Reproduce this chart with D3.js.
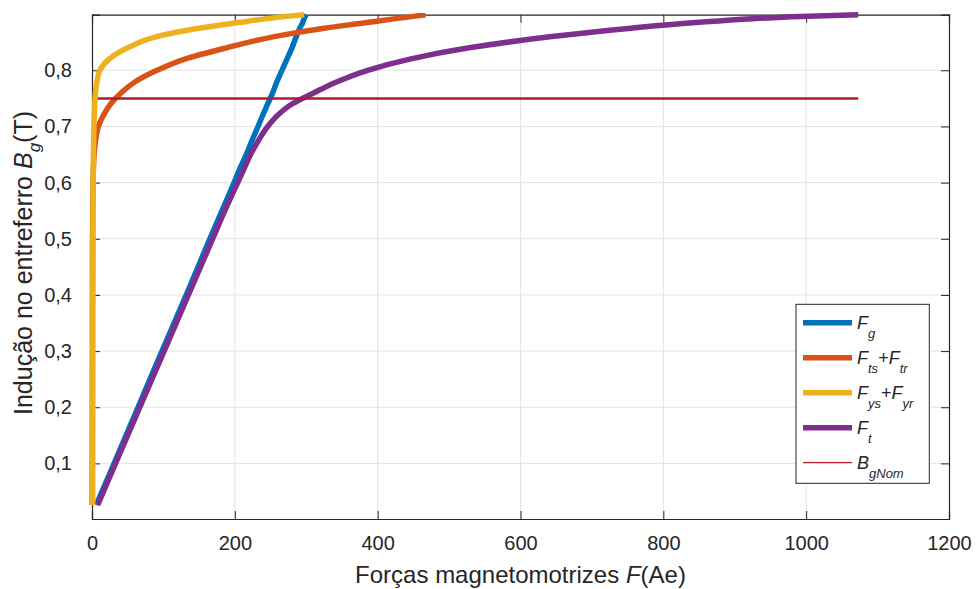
<!DOCTYPE html>
<html>
<head>
<meta charset="utf-8">
<script src="https://cdn.jsdelivr.net/npm/d3@7"></script>
<style>
  html, body { margin: 0; padding: 0; background: #ffffff; }
  svg { display: block; font-family: "Liberation Sans", Arial, Helvetica, sans-serif; }
</style>
</head>
<body>
<svg id="chart" width="976" height="589"></svg>
<script>
// Air-gap induction grid (T), shared by every magnetomotive-force series
const inducao = [0.026, 0.1, 0.2, 0.3, 0.4, 0.5, 0.55, 0.6, 0.625, 0.65, 0.675, 0.7, 0.72,
                 0.74, 0.76, 0.78, 0.8, 0.82, 0.84, 0.86, 0.875, 0.885, 0.892, 0.896, 0.899];

// Magnetomotive forces (Ae) at each induction value
const forcaEntreferro = [6, 31, 64.5, 98, 132, 165, 182, 199, 207, 216, 224, 232.5, 239,
                         246, 253, 259, 266, 273, 280, 286, 291, 295, 297, 298.5, 300];
const forcaDentes = [0.2, 0.3, 0.4, 0.5, 0.6, 0.8, 1.0, 1.5, 2, 3, 5, 9, 16,
                     26, 41, 61, 91, 130, 188, 255, 325, 385, 425, 450, 467];
const forcaCoroas = [1.0, 1.0, 1.1, 1.1, 1.2, 1.3, 1.4, 1.6, 1.8, 2.0, 2.3, 2.7, 3.2,
                     3.8, 4.8, 7, 11, 24, 50, 90, 150, 205, 245, 272, 297];
const forcaTotal = [8, 33, 67, 101, 135, 169, 186, 204, 213, 222, 233, 246, 260,
                    280, 311, 344, 386, 445, 528, 644, 755, 845, 925, 992, 1073];
const inducaoNominal = 0.75;

const xTicks = [0, 200, 400, 600, 800, 1000, 1200];
const yTicks = [0.1, 0.2, 0.3, 0.4, 0.5, 0.6, 0.7, 0.8];

const series = [
  { f: forcaEntreferro, color: "#0072BD", label: [["F", "i"], ["g", "s"]] },
  { f: forcaDentes,     color: "#D95319", label: [["F", "i"], ["ts", "s"], ["+", "n"], ["F", "i"], ["tr", "s"]] },
  { f: forcaCoroas,     color: "#EDB120", label: [["F", "i"], ["ys", "s"], ["+", "n"], ["F", "i"], ["yr", "s"]] },
  { f: forcaTotal,      color: "#7E2F8E", label: [["F", "i"], ["t", "s"]] }
];
const nominal = { color: "#B51A2B", label: [["B", "i"], ["gNom", "s"]] };

const W = 976, H = 589;
const margin = { left: 92, right: 27, top: 14.7, bottom: 70 };
const axisColor = "#262626";

const svg = d3.select("#chart");

const x = d3.scaleLinear().domain([0, 1200]).range([margin.left, W - margin.right]);
const y = d3.scaleLinear().domain([0.001, 0.899]).range([H - margin.bottom, margin.top]);

// grid
const grid = svg.append("g");
grid.selectAll("line.gx").data(xTicks.slice(1, -1)).join("line")
  .attr("x1", d => x(d)).attr("x2", d => x(d))
  .attr("y1", y.range()[0]).attr("y2", y.range()[1])
  .attr("stroke", "#e3e3e3").attr("stroke-width", 1);
grid.selectAll("line.gy").data(yTicks).join("line")
  .attr("y1", d => y(d)).attr("y2", d => y(d))
  .attr("x1", x.range()[0]).attr("x2", x.range()[1])
  .attr("stroke", "#e3e3e3").attr("stroke-width", 1);

// axes with inward ticks
const tickLen = 8;
const fmt = d => d3.format(".1f")(d).replace(".", ",");
const xAxis = svg.append("g").attr("transform", `translate(0,${y.range()[0]})`)
  .call(d3.axisBottom(x).tickValues(xTicks).tickSize(-tickLen).tickPadding(tickLen + 9).tickFormat(d3.format("d")));
const yAxis = svg.append("g").attr("transform", `translate(${x.range()[0]},0)`)
  .call(d3.axisLeft(y).tickValues(yTicks).tickSize(-tickLen).tickPadding(tickLen + 12).tickFormat(fmt));
const xTop = svg.append("g").attr("transform", `translate(0,${y.range()[1]})`)
  .call(d3.axisTop(x).tickValues(xTicks).tickSize(-tickLen).tickFormat(""));
const yRight = svg.append("g").attr("transform", `translate(${x.range()[1]},0)`)
  .call(d3.axisRight(y).tickValues(yTicks).tickSize(-tickLen).tickFormat(""));
[xAxis, yAxis, xTop, yRight].forEach(g => {
  g.select(".domain").attr("stroke", axisColor).attr("stroke-width", 1.2);
  g.selectAll(".tick line").attr("stroke", axisColor).attr("stroke-width", 1);
  g.selectAll(".tick text").attr("fill", axisColor).attr("font-size", 20)
    .attr("font-family", "Liberation Sans, Arial, sans-serif");
});

// curves
const line = d3.line().x(d => x(d[0])).y(d => y(d[1])).curve(d3.curveMonotoneY);
series.forEach(s => {
  svg.append("path")
    .datum(s.f.map((f, i) => [f, inducao[i]]))
    .attr("d", line)
    .attr("fill", "none")
    .attr("stroke", s.color)
    .attr("stroke-width", 5.5)
    .attr("stroke-linejoin", "round");
});
const fExtent = d3.extent(forcaTotal);
svg.append("line")
  .attr("x1", x(fExtent[0])).attr("x2", x(fExtent[1]))
  .attr("y1", y(inducaoNominal)).attr("y2", y(inducaoNominal))
  .attr("stroke", nominal.color).attr("stroke-width", 2.5);

// rich label helper: italic letters, italic subscripts, plain symbols
function richText(sel, parts, size, subSize, subShift) {
  let shifted = false;
  parts.forEach(([t, kind]) => {
    const ts = sel.append("tspan").text(t);
    if (kind === "s") {
      ts.attr("font-size", subSize).attr("font-style", "italic").attr("dy", shifted ? 0 : subShift);
      shifted = true;
    } else {
      ts.attr("font-size", size).attr("font-style", kind === "i" ? "italic" : "normal");
      if (shifted) { ts.attr("dy", -subShift); shifted = false; }
    }
  });
}

// legend
const legend = svg.append("g");
legend.append("rect")
  .attr("x", 796).attr("y", 304.3).attr("width", 133.3).attr("height", 179)
  .attr("fill", "#ffffff").attr("stroke", axisColor).attr("stroke-width", 1);
const entries = series.map(s => ({ color: s.color, width: 5.5, label: s.label }))
  .concat([{ color: nominal.color, width: 1.2, label: nominal.label }]);
entries.forEach((e, i) => {
  const cy = 322.7 + i * 35;
  legend.append("line").attr("x1", 803).attr("x2", 852).attr("y1", cy).attr("y2", cy)
    .attr("stroke", e.color).attr("stroke-width", e.width);
  const t = legend.append("text").attr("x", 857).attr("y", cy + 6).attr("fill", axisColor);
  richText(t, e.label, 18, 13, 9);
});

// axis titles
const xl = svg.append("text")
  .attr("x", (x.range()[0] + x.range()[1]) / 2).attr("y", 583)
  .attr("text-anchor", "middle").attr("fill", axisColor).attr("font-size", 24);
xl.append("tspan").text("Forças magnetomotrizes ");
xl.append("tspan").attr("font-style", "italic").text("F");
xl.append("tspan").text("(Ae)");

const yl = svg.append("text")
  .attr("transform", "translate(32,263) rotate(-90)")
  .attr("text-anchor", "middle").attr("fill", axisColor).attr("font-size", 25);
yl.append("tspan").text("Indução no entreferro ");
yl.append("tspan").attr("font-style", "italic").text("B");
yl.append("tspan").attr("font-style", "italic").attr("font-size", 17).attr("dy", 8).text("g");
yl.append("tspan").attr("dy", -8).text("(T)");
</script>
</body>
</html>
